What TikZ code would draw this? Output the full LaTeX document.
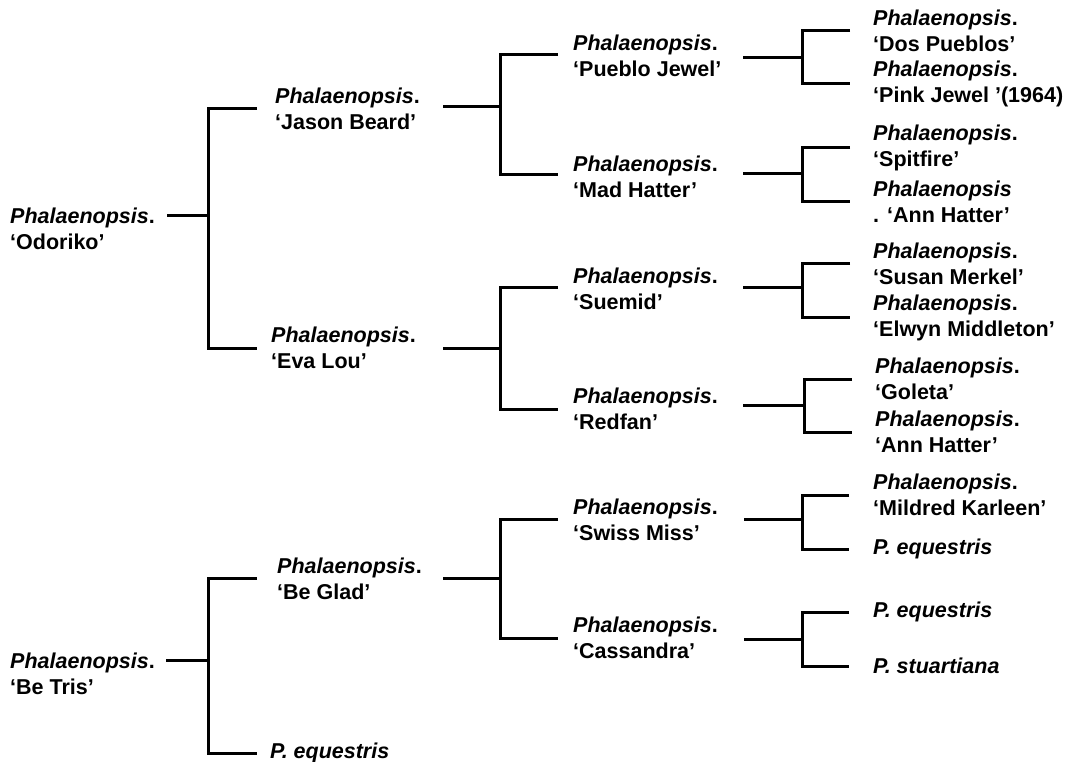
\documentclass[tikz,border=0pt]{standalone}
\usepackage{fontspec}
\setmainfont{Liberation Sans}
\newcommand{\phal}{\textit{Phalaenopsis}}
\begin{document}
\begin{tikzpicture}[
        x=1pt, y=-1pt,
        taxon/.style={anchor=west, align=left, inner sep=0pt, font=\fontsize{21.5}{25.5}\selectfont\bfseries},
        branch/.style={line width=3pt}
    ]
    \useasboundingbox (0,0) rectangle (1069,762);
    % Nodes
    \node[taxon] (odoriko) at (10,229) {\phal.\\‘Odoriko’};
    \node[taxon] (betris) at (10,674) {\phal.\\‘Be Tris’};
    \node[taxon] (jason) at (275,109) {\phal.\\‘Jason Beard’};
    \node[taxon] (evalou) at (271,348) {\phal.\\‘Eva Lou’};
    \node[taxon] (beglad) at (277,579) {\phal.\\‘Be Glad’};
    \node[taxon] (pequ0) at (270,753) {\textit{P. equestris}};
    \node[taxon] (pueblo) at (573,56) {\phal.\\‘Pueblo Jewel’};
    \node[taxon] (madhat) at (573,177) {\phal.\\‘Mad Hatter’};
    \node[taxon] (suemid) at (573,289) {\phal.\\‘Suemid’};
    \node[taxon] (redfan) at (573,409) {\phal.\\‘Redfan’};
    \node[taxon] (swiss) at (573,520) {\phal.\\‘Swiss Miss’};
    \node[taxon] (cassandra) at (573,638) {\phal.\\‘Cassandra’};
    \node[taxon] (dos) at (873,31) {\phal.\\‘Dos Pueblos’};
    \node[taxon] (pink) at (873,84) {\phal.\\‘Pink Jewel ’(1964)};
    \node[taxon] (spitfire) at (873,148) {\phal.\\‘Spitfire’};
    \node[taxon] (annhat1) at (873,202) {\phal\\. ‘Ann Hatter’};
    \node[taxon] (susan) at (873,264) {\phal.\\‘Susan Merkel’};
    \node[taxon] (elwyn) at (873,318) {\phal.\\‘Elwyn Middleton’};
    \node[taxon] (goleta) at (875,379) {\phal.\\‘Goleta’};
    \node[taxon] (annhat2) at (875,432) {\phal.\\‘Ann Hatter’};
    \node[taxon] (mildred) at (873,495) {\phal.\\‘Mildred Karleen’};
    \node[taxon] (pequ1) at (873,549) {\textit{P. equestris}};
    \node[taxon] (pequ2) at (873,612) {\textit{P. equestris}};
    \node[taxon] (pstuart) at (873,666) {\textit{P. stuartiana}};
    % Branch points
    \coordinate (odoriko-r) at (167,216);   \coordinate (odoriko-j) at (208,216);
    \coordinate (betris-r) at (166,660);    \coordinate (betris-j) at (208,660);
    \coordinate (jason-l) at (257,109);     \coordinate (evalou-l) at (257,348);
    \coordinate (beglad-l) at (257,578);    \coordinate (pequ0-l) at (257,753);
    \coordinate (jason-r) at (443,107);     \coordinate (jason-j) at (500,107);
    \coordinate (evalou-r) at (443,348);    \coordinate (evalou-j) at (500,348);
    \coordinate (beglad-r) at (443,578);    \coordinate (beglad-j) at (500,578);
    \coordinate (pueblo-l) at (558,55);     \coordinate (madhat-l) at (558,175);
    \coordinate (suemid-l) at (558,288);    \coordinate (redfan-l) at (558,409);
    \coordinate (swiss-l) at (558,519);     \coordinate (cassandra-l) at (558,638);
    \coordinate (pueblo-r) at (743,58);     \coordinate (pueblo-j) at (802,58);
    \coordinate (madhat-r) at (743,174);    \coordinate (madhat-j) at (802,174);
    \coordinate (suemid-r) at (743,288);    \coordinate (suemid-j) at (802,288);
    \coordinate (redfan-r) at (743,405);    \coordinate (redfan-j) at (804,405);
    \coordinate (swiss-r) at (744,519);     \coordinate (swiss-j) at (802,519);
    \coordinate (cassandra-r) at (744,639); \coordinate (cassandra-j) at (802,639);
    \coordinate (dos-l) at (850,31);        \coordinate (pink-l) at (850,84);
    \coordinate (spitfire-l) at (850,148);  \coordinate (annhat1-l) at (850,202);
    \coordinate (susan-l) at (850,264);     \coordinate (elwyn-l) at (850,318);
    \coordinate (goleta-l) at (852,379);    \coordinate (annhat2-l) at (852,432);
    \coordinate (mildred-l) at (849,495);   \coordinate (pequ1-l) at (849,549);
    \coordinate (pequ2-l) at (849,612);     \coordinate (pstuart-l) at (849,666);
    % Edges
    \draw[branch] (odoriko-r) -- (odoriko-j);
    \draw[branch] (jason-l) -| (odoriko-j) |- (evalou-l);
    \draw[branch] (betris-r) -- (betris-j);
    \draw[branch] (beglad-l) -| (betris-j) |- (pequ0-l);
    \draw[branch] (jason-r) -- (jason-j);
    \draw[branch] (pueblo-l) -| (jason-j) |- (madhat-l);
    \draw[branch] (evalou-r) -- (evalou-j);
    \draw[branch] (suemid-l) -| (evalou-j) |- (redfan-l);
    \draw[branch] (beglad-r) -- (beglad-j);
    \draw[branch] (swiss-l) -| (beglad-j) |- (cassandra-l);
    \draw[branch] (pueblo-r) -- (pueblo-j);
    \draw[branch] (dos-l) -| (pueblo-j) |- (pink-l);
    \draw[branch] (madhat-r) -- (madhat-j);
    \draw[branch] (spitfire-l) -| (madhat-j) |- (annhat1-l);
    \draw[branch] (suemid-r) -- (suemid-j);
    \draw[branch] (susan-l) -| (suemid-j) |- (elwyn-l);
    \draw[branch] (redfan-r) -- (redfan-j);
    \draw[branch] (goleta-l) -| (redfan-j) |- (annhat2-l);
    \draw[branch] (swiss-r) -- (swiss-j);
    \draw[branch] (mildred-l) -| (swiss-j) |- (pequ1-l);
    \draw[branch] (cassandra-r) -- (cassandra-j);
    \draw[branch] (pequ2-l) -| (cassandra-j) |- (pstuart-l);
\end{tikzpicture}
\end{document}
